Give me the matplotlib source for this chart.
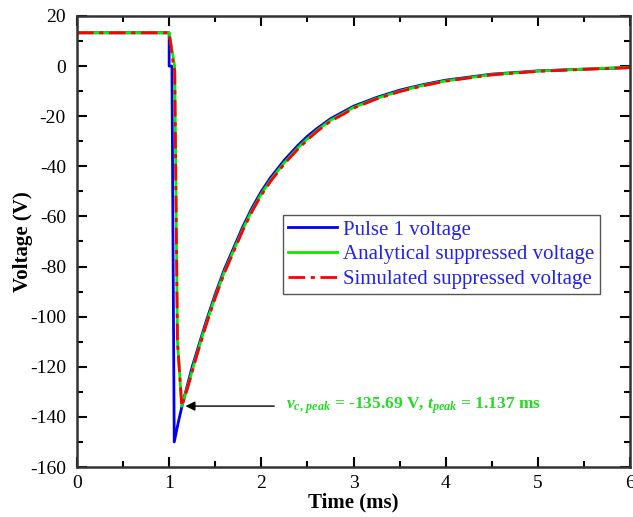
import numpy as np
import matplotlib.pyplot as plt
from matplotlib.ticker import MultipleLocator

plt.rcParams['font.family'] = ['Liberation Serif', 'DejaVu Serif']
plt.rcParams['axes.unicode_minus'] = False
plt.rcParams['mathtext.fontset'] = 'custom'
plt.rcParams['mathtext.rm'] = 'Liberation Serif:bold'
plt.rcParams['mathtext.it'] = 'Liberation Serif:italic:bold'
plt.rcParams['mathtext.bf'] = 'Liberation Serif:bold'

# values (time in ms, voltage in V)
t_pulse = [0, 1.0, 1.0, 1.03, 1.055, 1.1, 1.15, 1.2, 1.25, 1.3, 1.35, 1.4, 1.5, 1.6, 1.7,
           1.8, 1.9, 2.0, 2.1, 2.25, 2.4, 2.5, 2.6, 2.75, 2.9, 3.0, 3.25, 3.5, 3.75, 4.0,
           4.5, 5.0, 5.5, 6.0]
v_pulse = [13.3, 13.3, 0, 0, -150, -142, -134, -127, -120, -114, -108, -102, -91, -81, -72.5,
           -64, -56.5, -50, -44.5, -37.5, -31.5, -28, -25, -21, -18, -16, -12.5, -9.6, -7.4,
           -5.6, -3.2, -1.9, -1.2, -0.6]

t_analytic = [0, 1.0, 1.06, 1.09, 1.137, 1.2, 1.25, 1.3, 1.35, 1.4, 1.5, 1.6, 1.7, 1.8,
              1.9, 2.0, 2.1, 2.25, 2.4, 2.5, 2.6, 2.75, 2.9, 3.0, 3.25, 3.5, 3.75, 4.0,
              4.5, 5.0, 5.5, 6.0]
v_analytic = [13.3, 13.3, 0, -110, -135.69, -128, -121.5, -115, -109, -103, -92, -82, -73.5,
              -65, -57.5, -51, -45.5, -38.5, -32.5, -29, -25.8, -21.6, -18.6, -16.5, -12.9,
              -10, -7.7, -5.9, -3.4, -2.0, -1.2, -0.4]

t_sim = [0, 1.0, 1.02, 1.04, 1.06, 1.09, 1.137, 1.2, 1.25, 1.3, 1.35, 1.4, 1.5, 1.6, 1.7,
         1.8, 1.9, 2.0, 2.1, 2.25, 2.4, 2.5, 2.6, 2.75, 2.9, 3.0, 3.25, 3.5, 3.75, 4.0,
         4.5, 5.0, 5.5, 6.0]
v_sim = [13.3, 13.3, 8, 2, -2, -110, -135.69, -128.5, -122, -115.5, -109.5, -103.5, -92.5,
         -82.5, -74, -65.5, -58, -51.5, -46, -39, -33, -29.5, -26.2, -22, -19, -16.8,
         -13.1, -10.2, -7.9, -6.0, -3.5, -2.1, -1.3, -0.6]

peak_t = 1.137
peak_v = -135.69

fig = plt.figure(figsize=(6.33, 5.17), dpi=100)
ax = fig.add_axes([77 / 633, 50 / 517, 553 / 633, 451 / 517])

ax.plot(t_pulse, v_pulse, color='#0000ee', lw=2, label='Pulse 1 voltage')
ax.plot(t_analytic, v_analytic, color='#00ee00', lw=2, label='Analytical suppressed voltage')
ax.plot(t_sim, v_sim, color='#ff0000', lw=2, ls=(0, (6, 2, 1.5, 2)),
        label='Simulated suppressed voltage')

ax.annotate('', xy=(peak_t + 0.01, peak_v), xytext=(2.17, peak_v),
            arrowprops=dict(arrowstyle='-|>', color='black', lw=1, mutation_scale=14))
ax.text(2.27, peak_v, r'$v_{c,\,peak}$ = -135.69 V, $t_{peak}$ = 1.137 ms',
        color='#22dd22', fontsize=12.5, fontweight='bold', va='center')

ax.set_xlim(0, 6)
ax.set_ylim(-160, 20)
ax.xaxis.set_major_locator(MultipleLocator(1))
ax.xaxis.set_minor_locator(MultipleLocator(0.5))
ax.yaxis.set_major_locator(MultipleLocator(20))
ax.yaxis.set_minor_locator(MultipleLocator(10))
ax.tick_params(which='both', direction='in', top=True, right=True, labelsize=14, width=1.5)
ax.tick_params(which='major', length=7, pad=8)
ax.tick_params(axis='x', which='major', pad=6)
ax.tick_params(which='minor', length=4)
for sp in ax.spines.values():
    sp.set_linewidth(1.8)
    sp.set_color('#333333')

ax.set_xlabel('Time (ms)', fontsize=15, fontweight='bold', labelpad=0)
ax.set_ylabel('Voltage (V)', fontsize=15, fontweight='bold', labelpad=-2)

leg = ax.legend(loc='upper left', bbox_to_anchor=(0.3725, 0.559), fontsize=15,
                fancybox=False, edgecolor='#555555', framealpha=1, handlelength=2.35,
                borderpad=0.25, labelspacing=0.25, handletextpad=0.3, borderaxespad=0)
leg.get_frame().set_linewidth(1)
for txt in leg.get_texts():
    txt.set_color('#2222ee')

fig.savefig('out.png', dpi=100)
